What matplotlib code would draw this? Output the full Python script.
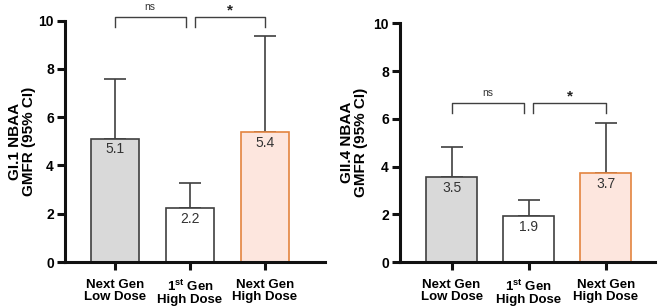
import numpy as np
import matplotlib
matplotlib.use("Agg")
import matplotlib.pyplot as plt

plt.rcParams["font.family"] = ["Liberation Sans", "DejaVu Sans"]
plt.rcParams["mathtext.fontset"] = "custom"
plt.rcParams["mathtext.bf"] = "Liberation Sans:bold"
plt.rcParams["mathtext.rm"] = "Liberation Sans"

groups = ["Next Gen\nLow Dose", "1$^{\\mathbf{st}}$ Gen\nHigh Dose", "Next Gen\nHigh Dose"]
gi1_gmfr = [5.1, 2.2, 5.4]
gi1_bar = [5.1, 2.22, 5.37]
gi1_upper = [7.58, 3.27, 9.35]
gii4_gmfr = [3.5, 1.9, 3.7]
gii4_bar = [3.55, 1.92, 3.72]
gii4_upper = [4.8, 2.58, 5.82]
sig_labels = ["ns", "*"]

fills = ["#d9d9d9", "#ffffff", "#fde6de"]
edges = ["#404040", "#404040", "#e3843f"]
line_col = "#404040"


def draw_panel(ax, bars, labels, upper, ylabel, bracket_y, xlim, width, upp, label_x):
    x = np.arange(len(bars))
    ax.bar(x, bars, width=width, color=fills, edgecolor=edges, linewidth=1.2, zorder=2)
    err = np.array(upper) - np.array(bars)
    ax.errorbar(x, bars, yerr=[np.zeros_like(err), err], fmt="none",
                ecolor=line_col, elinewidth=1.2, capsize=8, capthick=1.2, zorder=1)
    for xi, b, lab in zip(x, bars, labels):
        ax.annotate(f"{lab:.1f}", (xi, b), xytext=(0, -2.5), textcoords="offset points",
                    ha="center", va="top", fontsize=10, color="#333333")

    # significance brackets
    top, drop = bracket_y
    pairs = [(0, 0.94), (1.06, 2)]
    for (a, b), s in zip(pairs, sig_labels):
        ax.plot([a, a, b, b], [top - drop, top, top, top - drop], color=line_col,
                lw=1.0, clip_on=False)
        if s == "*":
            ax.text((a + b) / 2, top + 2.5 * upp, s, ha="center", va="baseline",
                    fontsize=11, fontweight="bold", color="#222222")
        else:
            ax.text((a + b) / 2, top + 7 * upp, s, ha="center", va="baseline",
                    fontsize=7.5, color="#333333")

    ax.set_xlim(*xlim)
    ax.set_ylim(0, 10)
    ax.set_yticks([0, 2, 4, 6, 8, 10])
    ax.set_xticks(x)
    ax.set_xticklabels(groups, fontsize=9.5, fontweight="bold", linespacing=1.0)
    for t in ax.get_yticklabels():
        t.set_fontweight("bold")
        t.set_fontsize(10)
    ax.set_ylabel(ylabel, fontsize=11, fontweight="bold", linespacing=1.05)
    ax.yaxis.set_label_coords(label_x, 0.5)
    for side in ["top", "right"]:
        ax.spines[side].set_visible(False)
    for side in ["left", "bottom"]:
        ax.spines[side].set_linewidth(2.2)
        ax.spines[side].set_color("#111111")
    ax.tick_params(axis="both", width=2.2, length=6, color="#111111", pad=2)
    ax.tick_params(axis="x", pad=6)


def main():
    fig = plt.figure(figsize=(6.6, 3.07), dpi=100)

    ax1 = fig.add_axes([65 / 660, 45 / 307, 260 / 660, 241.3 / 307])
    draw_panel(ax1, gi1_bar, gi1_gmfr, gi1_upper, "GI.1 NBAA\nGMFR (95% CI)",
               (10.17, 0.42), (-0.667, 2.8), 0.63, 10 / 241.3, -0.11)

    ax2 = fig.add_axes([400 / 660, 45 / 307, 255 / 660, 238.7 / 307])
    draw_panel(ax2, gii4_bar, gii4_gmfr, gii4_upper, "GII.4 NBAA\nGMFR (95% CI)",
               (6.66, 0.42), (-0.67, 2.64), 0.66, 10 / 238.7, -0.125)

    fig.savefig("out.png", dpi=100)


if __name__ == "__main__":
    main()
